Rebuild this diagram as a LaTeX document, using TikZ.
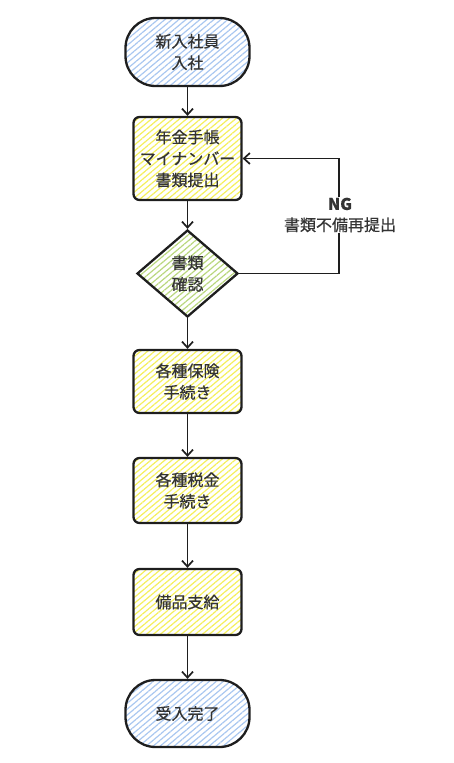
\documentclass[tikz,border=0pt]{standalone}
\usepackage{fontspec}
\setmainfont{Noto Sans CJK JP}[FakeBold=0.6]
\usetikzlibrary{shapes.geometric,arrows.meta,patterns.meta}
\definecolor{ink}{HTML}{1E1E1E}
\definecolor{txt}{HTML}{333333}
\definecolor{bluehatch}{HTML}{A9C7F0}
\definecolor{yelhatch}{HTML}{F4EF5C}
\definecolor{grnhatch}{HTML}{B9D77E}
\tikzset{
  base/.style={draw=ink, line width=2.3pt, text=txt, font=\fontsize{16}{21.5}\selectfont, align=center, inner sep=0pt},
  hatch/.style={preaction={pattern={Lines[angle=40,distance=4.5pt,line width=1.2pt]}, pattern color=#1}},
  term/.style={base, rounded corners=30pt, minimum width=124pt, minimum height=68pt, hatch=bluehatch},
  proc/.style={base, rounded corners=6pt, minimum width=108pt, hatch=yelhatch},
  deci/.style={base, diamond, minimum width=101pt, minimum height=87pt, hatch=grnhatch},
  conn/.style={draw=ink, line width=1.9pt, -{Straight Barb[length=6pt,width=11pt,line width=1.7pt]}},
  lbl/.style={text=txt, font=\fontsize{16}{21}\selectfont, align=center, fill=white, inner sep=1pt}
}
\begin{document}
\begin{tikzpicture}[x=1pt,y=-1pt]
\useasboundingbox (0,0) rectangle (453,763);
\node[term] (start) at (187.5,52) {新入社員\\入社};
\node[proc, minimum height=83pt] (docs) at (187.5,158.5) {年金手帳\\マイナンバー\\書類提出};
\node[deci] (check) at (187.5,273.5) {書類\\確認};
\node[proc, minimum height=63pt] (ins) at (187.5,381.5) {各種保険\\手続き};
\node[proc, minimum height=65pt] (tax) at (187.5,490.5) {各種税金\\手続き};
\node[proc, minimum height=66pt] (equip) at (187.5,602) {備品支給};
\node[term, minimum height=67pt] (end) at (187.5,713.5) {受入完了};
\coordinate (turn) at (339,273.5);
\draw[conn] (start) -- (docs);
\draw[conn] (docs) -- (check);
\draw[conn] (check) -- (ins);
\draw[conn] (ins) -- (tax);
\draw[conn] (tax) -- (equip);
\draw[conn] (equip) -- (end);
\draw[conn] (check.east) -- (turn) |- (docs.east);
\node[lbl] (ng) at (340,215) {\textbf{NG}\\書類不備再提出};
\end{tikzpicture}
\end{document}
